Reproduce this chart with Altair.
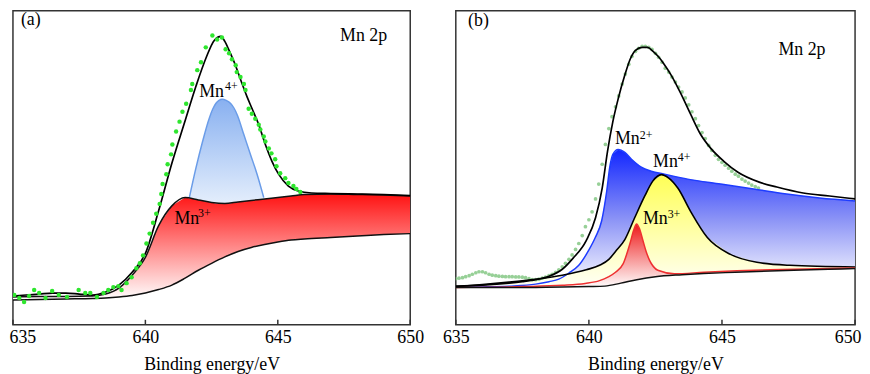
import altair as alt
import pandas as pd

FONT = "'Liberation Serif', 'Times New Roman', Times, 'DejaVu Serif', serif"

# ---------------- Panel (a) ----------------
a_bg_x = [635, 636, 637, 638, 638.5, 639, 639.5, 640, 640.5, 641, 641.5, 642, 642.5, 643, 643.5, 644, 644.5, 645, 645.5, 646, 647, 648, 649, 650]
a_bg_y = [25, 25.5, 26, 26.5, 27, 28, 29.5, 32, 35.5, 40, 47, 55, 62, 68.5, 74, 78, 81, 83.5, 85.5, 86.5, 88, 89.5, 91, 92]
a_mn3_y = [28, 28.5, 28.5, 29, 31, 37, 50, 68, 100, 120, 128.5, 126, 123.5, 122.5, 124, 125.5, 127, 128.5, 130, 131.5, 132, 131.5, 131, 130]

a_mn4_x = [641.66, 641.91, 642.16, 642.41, 642.66, 642.78, 642.90, 643.05, 643.22, 643.47, 643.72, 643.97, 644.22, 644.47]
a_mn4_top = [128.3, 158.3, 185, 208.3, 223.3, 226.5, 227.7, 226.5, 223.3, 211.7, 191.7, 171.7, 151.7, 128.3]
a_mn4_bot = [128.3, 127, 125.5, 124, 122.5, 122.3, 122.3, 122.4, 122.7, 123.7, 124.7, 125.7, 126.7, 128]

a_env_x = [635, 635.5, 636, 636.5, 637, 637.5, 638, 638.5, 639, 639.5, 640, 640.5, 641, 641.5, 641.9, 642.3, 642.6, 642.85, 643.0, 643.16, 643.4, 643.6, 643.84, 644.03, 644.28, 644.53, 644.78, 645.03, 645.4, 645.77, 646.27, 647, 648, 649, 650]
a_env_y = [29, 30, 31, 32, 32, 31, 30, 33, 40, 53, 72, 115, 163, 206, 240, 270, 287, 291, 286, 277, 262, 247, 230, 218, 202, 182, 165, 152, 140, 135, 133, 132.5, 132, 131.5, 130.5]

a_dot_x = [635.05, 635.24, 635.42, 635.61, 635.80, 635.99, 636.23, 636.48, 636.73, 637.04, 637.48, 637.73, 637.92, 638.17, 638.42, 638.60, 638.79, 638.98, 639.10, 639.29, 639.48, 639.66, 639.79, 639.91, 640.04, 640.16, 640.29, 640.41, 640.54, 640.60, 640.65, 640.79, 640.84, 640.97, 641.02, 641.16, 641.29, 641.40, 641.54, 641.72, 641.77, 641.96, 642.10, 642.28, 642.53, 642.71, 642.89, 643.03, 643.16, 643.27, 643.41, 643.45, 643.59, 643.72, 643.78, 643.90, 644.02, 644.15, 644.28, 644.34, 644.47, 644.53, 644.66, 644.76, 644.90, 644.95, 645.09, 645.28, 645.40, 645.59, 645.70, 645.85]
a_dot_y = [30, 27, 23, 29, 35, 32, 27, 34, 30, 28, 35, 32, 32, 28, 32, 35, 38, 39, 35, 42, 48, 57, 62, 70, 82, 92, 103, 112, 122, 132, 142, 152, 162, 172, 182, 195, 205, 215, 223, 237, 243, 257, 265, 280, 292, 288, 290, 278, 274, 268, 262, 255, 250, 243, 237, 218, 213, 208, 202, 197, 190, 185, 178, 173, 167, 160, 153, 148, 143, 140, 137, 134]

a_txt = ["(a)", "Mn 2p", "Mn", "Mn"]
a_txt_x = [635.30, 647.35, 642.03, 641.10]
a_txt_y = [303, 286, 230, 102]
a_sup = ["4+", "3+"]
a_sup_x = [643.01, 641.99]
a_sup_y = [237, 109]

# ---------------- Panel (b) ----------------
b_bg_x = [635, 636, 637, 638, 639, 640, 640.6, 641.2, 641.8, 642.5, 643.5, 644.3, 645.5, 646.8, 648, 649, 650]
b_bg_y = [37.5, 37.5, 37.5, 37.7, 38, 38.5, 39, 42, 45.5, 48.5, 50.5, 51.7, 53, 54.3, 55.3, 56, 56.7]

b_mn2_x = [635, 636, 637, 638, 638.5, 638.87, 639.24, 639.62, 639.99, 640.24, 640.48, 640.67, 640.79, 640.9, 641.1, 641.35, 641.6, 641.97, 642.34, 642.84, 643.71, 644.95, 646.19, 647.43, 648.67, 650]
b_mn2_top = [37.8, 38.2, 39, 41, 43.5, 46, 52, 60, 75, 88, 105, 135, 160, 172, 177, 174, 167, 159, 155, 152, 147, 142, 137, 132, 128, 125]
b_mn2_bot = [37.5, 37.5, 37.5, 37.7, 37.85, 38, 38.1, 38.3, 38.5, 38.7, 38.9, 39.3, 40, 40.5, 41.5, 43, 44.3, 46.3, 47.8, 49.2, 50.8, 52.4, 53.7, 54.8, 55.8, 56.7]

b_mn4_x = [635, 636, 637, 638, 639, 639.9, 640.4, 640.75, 641.0, 641.35, 641.72, 642.1, 642.4, 642.72, 643.0, 643.34, 643.83, 644.45, 645.32, 646.31, 647.55, 650]
b_mn4_top = [38.5, 40.5, 43, 46, 50, 55.5, 60, 66, 74, 86, 108, 130, 145, 151.5, 148, 138, 114, 88, 71, 63, 60, 58.3]
b_mn4_bot = [37.5, 37.5, 37.5, 37.7, 38, 38.5, 38.8, 39.5, 40.5, 42.5, 44.5, 47, 48, 48.7, 49.2, 49.8, 50.6, 51.4, 52.8, 53.7, 54.9, 56.7]

b_mn3_x = [635, 637.5, 639, 639.86, 640.4, 640.73, 641.0, 641.29, 641.54, 641.7, 641.79, 641.9, 642.03, 642.15, 642.28, 642.59, 643.21, 644.33, 645.57, 646.81, 650]
b_mn3_top = [37.6, 38.5, 39.8, 41.7, 44.5, 48.3, 53, 61.7, 81.7, 97, 101.7, 97, 85, 74, 65, 55, 51.5, 53, 54.5, 55.5, 57.2]
b_mn3_bot = [37.5, 37.6, 37.9, 38.4, 38.8, 39.3, 40.5, 42, 43.5, 44.5, 45, 45.6, 46.3, 47, 47.6, 48.5, 50, 51.8, 53.1, 54.3, 56.7]

b_env_x = [635, 636, 637, 637.5, 638, 638.5, 639, 639.4, 639.9, 640.25, 640.5, 640.7, 640.9, 641.1, 641.35, 641.55, 641.75, 642.0, 642.2, 642.41, 642.6, 642.8, 643.09, 643.46, 643.83, 644.2, 644.58, 645.07, 645.6, 646.4, 647.06, 648.05, 649.04, 650]
b_env_y = [39, 40, 42, 43.5, 45.5, 49, 56, 67, 85, 108, 138, 175, 205, 228, 252, 268, 277, 280, 280, 276, 271, 264, 252, 233, 212, 192, 178, 165, 154, 144, 139, 133, 130, 127]

b_dot_x = [635.0, 635.12, 635.25, 635.37, 635.5, 635.62, 635.75, 635.87, 636.0, 636.12, 636.25, 636.37, 636.5, 636.62, 636.75, 636.87, 637.0, 637.12, 637.25, 637.37, 637.5, 637.62, 637.75, 637.87, 638.0,
           638.12, 638.25, 638.37, 638.5, 638.62, 638.75, 638.87, 639.0, 639.12, 639.25, 639.37, 639.5, 639.62, 639.75, 639.87, 640.0, 640.12, 640.25, 640.37, 640.5, 640.62, 640.75, 640.87,
           641.0, 641.12, 641.25, 641.37, 641.5, 641.62, 641.75, 641.87, 642.0, 642.12, 642.25, 642.37, 642.5, 642.62, 642.75, 642.87, 643.0, 643.12, 643.25, 643.37, 643.5, 643.62, 643.75, 643.87,
           644.0, 644.12, 644.25, 644.37, 644.5, 644.62, 644.75, 644.87, 645.0, 645.12, 645.25, 645.37, 645.5, 645.62, 645.75, 645.87, 646.0, 646.12, 646.25, 646.37]
b_dot_y = [46.5, 47, 47.5, 48.5, 49.5, 51, 52.5, 53.5, 53.5, 52.5, 51, 50, 49.5, 49, 48.8, 48.5, 48.5, 48.5, 48.3, 48.3, 48, 47.5, 46.5, 45.5, 45.5,
           46, 47, 48, 49.5, 51, 53, 55.5, 58.5, 62, 66, 70.5, 76, 82, 90, 99, 106, 114, 127, 142, 162, 182, 198, 210,
           220, 231, 243, 253, 263, 271, 276, 279, 281, 281, 280, 278, 274, 270, 265, 259, 255, 250, 245, 240, 235, 229, 222, 215,
           208, 201, 194, 188, 181, 176, 171, 167, 164, 161, 158, 155, 152, 150, 147, 145, 143, 141, 139.5, 138]

b_txt = ["(b)", "Mn 2p", "Mn", "Mn", "Mn"]
b_txt_x = [635.46, 647.12, 640.98, 642.41, 642.03]
b_txt_y = [302, 272, 182, 159, 102]
b_sup = ["2+", "4+", "3+"]
b_sup_x = [641.91, 643.34, 642.96]
b_sup_y = [188, 165, 108]

x_ticks = [635, 640, 645, 650]

W_A, W_B, H = 401, 403, 317


def grad(top, bottom, mid=None):
    stops = [alt.GradientStop(color=top, offset=0)]
    if mid is not None:
        stops.append(alt.GradientStop(color=mid, offset=0.5))
    stops.append(alt.GradientStop(color=bottom, offset=1))
    return alt.Gradient(gradient="linear", x1=0, y1=0, x2=0, y2=1, stops=stops)


def make_axis(end_value, align, offset):
    test = f"datum.value == {end_value}"
    return alt.Axis(
        values=x_ticks, format="d", title="Binding energy/eV",
        titleFont=FONT, titleFontSize=18, titleFontWeight="normal", titleColor="black", titlePadding=9,
        labelFont=FONT, labelFontSize=18, labelColor="black", labelPadding=4,
        ticks=False, tickSize=0, domain=False, grid=False, labelFlush=False, labelOverlap=False,
        labelAlign={"condition": {"test": test, "value": align}, "value": "center"},
        labelOffset={"condition": {"test": test, "value": offset}, "value": 0},
    )


def panel(axis, areas, lines, dots, dots_on_top, txt, sup, width):
    xs = alt.Scale(domain=[635, 650], nice=False, zero=False)
    ys = alt.Scale(domain=[0, H], nice=False, zero=False)
    X = alt.X("x:Q", scale=xs, axis=axis)
    layers = []
    for (xv, tv, bv, fill) in areas:
        d = pd.DataFrame({"x": xv, "t": tv, "b": bv})
        layers.append(alt.Chart(d).mark_area(color=fill, clip=True).encode(
            x=X, y=alt.Y("t:Q", scale=ys, axis=None), y2="b:Q"))
    dot_layer = None
    if dots is not None:
        dx, dy, col, size, op = dots
        d = pd.DataFrame({"x": dx, "y": dy})
        dot_layer = alt.Chart(d).mark_circle(color=col, size=size, opacity=op, clip=True).encode(
            x=X, y=alt.Y("y:Q", scale=ys, axis=None))
    if dot_layer is not None and not dots_on_top:
        layers.append(dot_layer)
    for (xv, yv, col, sw) in lines:
        d = pd.DataFrame({"x": xv, "y": yv})
        layers.append(alt.Chart(d).mark_line(color=col, strokeWidth=sw, interpolate="monotone", clip=True).encode(
            x=X, y=alt.Y("y:Q", scale=ys, axis=None)))
    if dot_layer is not None and dots_on_top:
        layers.append(dot_layer)
    # inward ticks
    td = pd.DataFrame({"x": x_ticks})
    layers.append(alt.Chart(td).mark_rule(color="#333333", strokeWidth=1.5).encode(
        x=X, y=alt.value(H), y2=alt.value(H - 5)))
    tx, ttx, tty = txt
    d = pd.DataFrame({"x": ttx, "y": tty, "t": tx})
    layers.append(alt.Chart(d).mark_text(font=FONT, fontSize=18, align="left", baseline="alphabetic", color="black").encode(
        x=X, y=alt.Y("y:Q", scale=ys, axis=None), text="t:N"))
    sx, ssx, ssy = sup
    d = pd.DataFrame({"x": ssx, "y": ssy, "t": sx})
    layers.append(alt.Chart(d).mark_text(font=FONT, fontSize=12, align="left", baseline="alphabetic", color="black").encode(
        x=X, y=alt.Y("y:Q", scale=ys, axis=None), text="t:N"))
    return alt.layer(*layers).properties(width=width, height=H)


pa = panel(
    make_axis(635, "left", -4),
    areas=[
        (a_bg_x, a_mn3_y, a_bg_y, grad("#FF1212", "#FFFFFF")),
        (a_mn4_x, a_mn4_top, a_mn4_bot, grad("#88B0F0", "#E4EEFC")),
    ],
    lines=[
        (a_mn4_x, a_mn4_top, "#6A9CE8", 1.5),
        (a_bg_x, a_mn3_y, "#111111", 1.5),
        (a_bg_x, a_bg_y, "#111111", 1.5),
        (a_env_x, a_env_y, "#000000", 1.7),
    ],
    dots=(a_dot_x, a_dot_y, "#2EE62E", 20, 1.0),
    dots_on_top=True,
    txt=(a_txt, a_txt_x, a_txt_y),
    sup=(a_sup, a_sup_x, a_sup_y),
    width=W_A,
)

pb = panel(
    make_axis(650, "right", 6),
    areas=[
        (b_mn2_x, b_mn2_top, b_mn2_bot, grad("#1226FF", "#FFFFFF", "#8A92F6")),
        (b_mn4_x, b_mn4_top, b_mn4_bot, grad("#FFFF55", "#FFFFF8")),
        (b_mn3_x, b_mn3_top, b_mn3_bot, grad("#EE1A1A", "#FFFFFF")),
    ],
    lines=[
        (b_mn2_x, b_mn2_top, "#1E3CFF", 1.5),
        (b_mn4_x, b_mn4_top, "#000000", 1.6),
        (b_mn3_x, b_mn3_top, "#EE3030", 1.5),
        (b_bg_x, b_bg_y, "#111111", 1.5),
        (b_env_x, b_env_y, "#000000", 1.7),
    ],
    dots=(b_dot_x, b_dot_y, "#8CCB8C", 14, 0.9),
    dots_on_top=False,
    txt=(b_txt, b_txt_x, b_txt_y),
    sup=(b_sup, b_sup_x, b_sup_y),
    width=W_B,
)

chart = alt.hconcat(pa, pb, spacing=16).properties(
    padding={"left": 0, "top": 0, "right": 0, "bottom": 0},
    background="white",
).configure_view(stroke="#333333", strokeWidth=1.5)

chart.save("out.html", embed_options={"renderer": "svg", "actions": False})
